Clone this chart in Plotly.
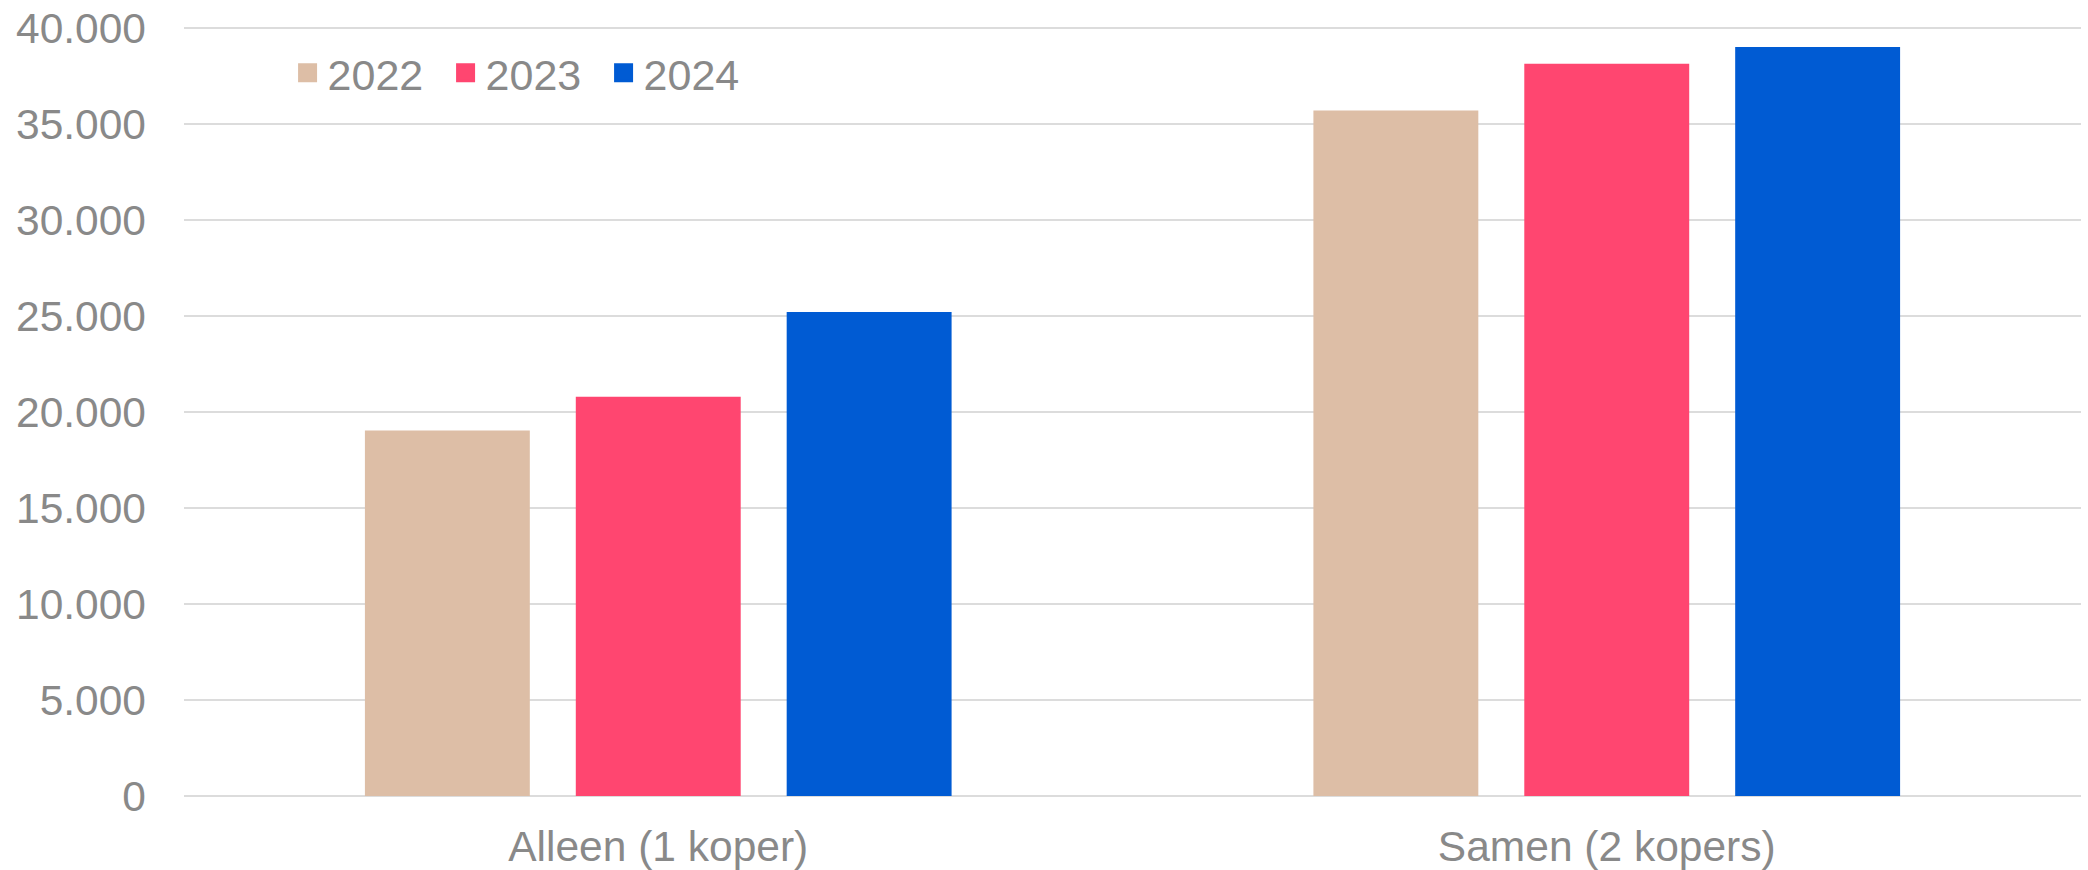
import plotly.graph_objects as go

categories = ["Alleen (1 koper)", "Samen (2 kopers)"]
years = ["2022", "2023", "2024"]
values_2022 = [19040, 35700]
values_2023 = [20790, 38130]
values_2024 = [25210, 39000]
colors = ["#DDBEA6", "#FF4670", "#005BD3"]

grey = "#898989"
font = "Liberation Sans, Arial, sans-serif"

fig = go.Figure()
for year, vals, col in zip(years, [values_2022, values_2023, values_2024], colors):
    fig.add_trace(go.Bar(x=categories, y=vals, name=year, marker=dict(color=col, line=dict(width=0)),
                         showlegend=False))
    # bigger square legend symbols than the bar default
    fig.add_trace(go.Scatter(x=[None], y=[None], mode="markers", name=year,
                             marker=dict(symbol="square", size=16, color=col, line=dict(width=3, color=col))))

fig.update_layout(
    width=2088, height=870,
    margin=dict(l=184, r=7, t=25, b=74, autoexpand=False),
    plot_bgcolor="white", paper_bgcolor="white",
    font=dict(family=font, size=42.5, color=grey),
    separators=",.",
    barmode="group", bargap=0.333, bargroupgap=0.218,
    legend=dict(orientation="h", x=0.0546, xanchor="left", y=0.938, yanchor="middle",
                font=dict(size=43, color=grey), bgcolor="rgba(0,0,0,0)", itemsizing="trace",
                entrywidth=113, entrywidthmode="pixels"),
)
# range a touch above 40.000 so the top gridline is kept
fig.update_yaxes(range=[0, 40150], tickvals=[0, 5000, 10000, 15000, 20000, 25000, 30000, 35000, 40000],
                 tickformat=",d", gridcolor="#DCDCDC", gridwidth=2,
                 zeroline=True, zerolinecolor="#DCDCDC", zerolinewidth=2, showline=False,
                 ticklabelstandoff=37, automargin=False, ticklabeloverflow="allow")
fig.update_xaxes(showline=False, showgrid=False, ticklabelstandoff=21, automargin=False)

# drop the default body margin so the figure fills the window
fig.write_html("out.html", config={"displayModeBar": False},
               post_script="document.body.style.margin='0px';")
